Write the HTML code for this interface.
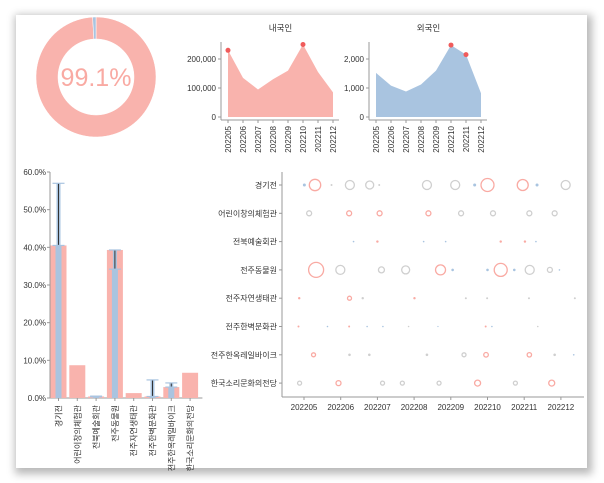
<!DOCTYPE html>
<html><head><meta charset="utf-8"><style>
html,body{margin:0;padding:0;background:#fff;width:604px;height:483px;overflow:hidden}
#panel{position:absolute;left:16px;top:15px;width:571px;height:453px;background:#fff;box-shadow:2px 3px 8px 3px rgba(0,0,0,0.28)}
svg{position:absolute;left:0;top:0}
text{font-family:"Liberation Sans","Noto Sans CJK KR",sans-serif;fill:#333}
</style></head><body>
<div id="panel"></div>
<svg id="s" width="604" height="483"></svg>
<script>
const NS='http://www.w3.org/2000/svg';
const svg=document.getElementById('s');
function mk(tag,attrs,parent,txt){const e=document.createElementNS(NS,tag);for(const k in attrs)e.setAttribute(k,attrs[k]);if(txt!==undefined)e.textContent=txt;(parent||svg).appendChild(e);return e;}
const PINK='#f9b3ad',BLUE='#a9c4e0',GRAY='#cccccc',RED='#f05b5b',AX='#999';

// ---- data ----
const donutShare=[99.1,0.9];
const months=['202205','202206','202207','202208','202209','202210','202211','202212'];
const domestic=[230000,135000,95000,130000,160000,250000,155000,85000];
const domesticPeaks=[0,5];
const foreign=[1520,1080,880,1120,1600,2480,2150,820];
const foreignPeaks=[5,6];
const venues=['경기전','어린이창의체험관','전북예술회관','전주동물원','전주자연생태관','전주한벽문화관','전주한옥레일바이크','한국소리문화의전당'];
const sharePink=[40.5,8.7,0.4,39.3,1.3,0.4,2.9,6.7];
const shareBlue=[40.5,0,0.4,34.2,0,0.4,2.9,0];
const errLow=[40.5,null,0.3,34.2,null,0.4,2.9,null];
const errHigh=[57,null,0.5,39.3,null,4.8,4.0,null];
const barTicks=[0,10,20,30,40,50,60];
// bubbles: row, month position, size, kind (p pink, g gray, b blue)
const bubRow=[0,0,0,0,0,0,0,0,0,0,0,0,0, 1,1,1,1,1,1,1,1, 2,2,2,2,2,2,2, 3,3,3,3,3,3,3,3,3,3,3,3, 4,4,4,4,4,4,4,4, 5,5,5,5,5,5,5,5,5,5, 6,6,6,6,6,6,6,6,6, 7,7,7,7,7,7,7,7];
const bubPos=[0.01,0.3,0.75,1.25,1.79,2.05,3.35,4.12,4.65,5.0,5.96,6.35,7.13, 0.14,1.23,2.06,3.39,4.28,5.15,6.14,6.83, 1.35,2.0,3.26,3.86,5.36,6.02,6.32, 0.33,0.99,2.11,2.77,3.72,4.05,5.0,5.36,5.73,6.15,6.7,6.96, -0.13,1.24,1.6,3.01,4.41,4.99,6.13,7.38, -0.15,0.64,1.23,1.72,2.15,2.85,3.65,4.95,5.12,6.37, 0.26,1.24,1.78,3.35,4.36,4.96,6.14,6.83,7.35, -0.12,0.94,2.14,2.68,3.68,4.73,5.76,6.75];
const bubSize=[1.5,5.7,1,4.5,4,1,4.5,4.5,1.5,6.5,5.5,1.5,4.5, 2.5,2.5,2.5,2.5,2.5,2.5,2.5,2.5, 0.8,1.2,0.8,0.8,1.2,1.2,0.8, 7.5,4.5,3,4,5,1.3,1.3,6.5,1.3,4.5,2.5,0.8, 1.2,2,1.2,1.2,1,1,1,1, 1,0.8,1,0.8,0.8,0.8,0.6,1,0.8,0.8, 2,1.3,1.3,1.3,2,2.3,2.2,1.3,0.8, 2,2.5,2,2,2,3,2,3];
const bubKind=['b','p','g','g','g','g','g','g','b','p','p','b','g', 'g','p','p','p','g','g','g','g', 'b','p','b','b','p','p','b', 'p','g','g','g','p','b','b','p','b','g','g','b', 'p','p','g','p','g','g','g','g', 'p','b','p','b','b','g','b','p','b','g', 'p','g','g','g','g','p','p','g','b', 'g','p','g','g','g','p','g','p'];

// ---- donut ----
(function(){
  const cx=96,cy=77,R=60,r=38,g=mk('g',{});
  
  const tot=donutShare[0]+donutShare[1];let a0=0;
  donutShare.forEach((v,i)=>{
    const a1=a0+v/tot*2*Math.PI;
    const p=(rr,a)=>[cx+rr*Math.sin(a),cy-rr*Math.cos(a)];
    const [x0,y0]=p(R,a0),[x1,y1]=p(R,a1),[x2,y2]=p(r,a1),[x3,y3]=p(r,a0);
    const lg=(a1-a0)>Math.PI?1:0;
    const s=mk('path',{d:`M${x0},${y0}A${R},${R} 0 ${lg} 1 ${x1},${y1}L${x2},${y2}A${r},${r} 0 ${lg} 0 ${x3},${y3}Z`,fill:i?BLUE:PINK,stroke:'#fff','stroke-width':0.5},g);
    
    
    a0=a1;
  });
  const t=mk('text',{x:cx,y:cy+9,'text-anchor':'middle','font-size':25,style:'fill:#f9aaa3'},g,donutShare[0]+'%');
  
})();

// ---- area charts ----
function area(x0,x1,yMax,ticks,fmt,vals,peaks,fill,title,name){
  const g=mk('g',{});
  
  const y0=117,yTop=42;
  const sx=i=>x0+i*(x1-x0)/(months.length-1);
  const sy=v=>y0-v/yMax*(y0-yTop);
  const tt=mk('text',{x:(x0+x1)/2,y:31,'text-anchor':'middle','font-size':8.5},g,title);
  
  let d=`M${sx(0)},${y0}`;vals.forEach((v,i)=>d+=`L${sx(i)},${sy(v)}`);d+=`L${sx(vals.length-1)},${y0}Z`;
  const ar=mk('path',{d,fill},g);
  
  const ax=x0-7;
  mk('line',{x1:ax,y1:yTop,x2:ax,y2:y0+3,stroke:AX},g);
  mk('line',{x1:ax,y1:y0+3,x2:x1+6,y2:y0+3,stroke:AX},g);
  ticks.forEach(t=>{
    mk('line',{x1:ax-3,y1:sy(t),x2:ax,y2:sy(t),stroke:AX},g);
    const l=mk('text',{x:ax-5,y:sy(t)+3,'text-anchor':'end','font-size':8},g,fmt(t));
    
  });
  months.forEach((m,i)=>{
    mk('line',{x1:sx(i),y1:y0+3,x2:sx(i),y2:y0+6,stroke:AX},g);
    const l=mk('text',{transform:`translate(${sx(i)+3},${y0+9}) rotate(-90)`,'text-anchor':'end','font-size':8},g,m);
    
  });
  peaks.forEach(i=>{
    const c=mk('circle',{cx:sx(i),cy:sy(vals[i]),r:2.5,fill:RED},g);
    
  });
}
area(228,333,258620,[0,100000,200000],v=>v.toLocaleString('en-US'),domestic,domesticPeaks,PINK,'내국인','domestic-area-chart');
area(376,481,2586,[0,1000,2000],v=>v.toLocaleString('en-US'),foreign,foreignPeaks,BLUE,'외국인','foreign-area-chart');

// ---- bar chart ----
(function(){
  const g=mk('g',{});
  
  const y0=398,yTop=172,x0=50,band=18.8;
  const sy=v=>y0-v/60*(y0-yTop);
  const cx=i=>x0+8.5+i*band;
  mk('line',{x1:x0,y1:yTop,x2:x0,y2:y0,stroke:AX},g);
  mk('line',{x1:x0,y1:y0,x2:x0+8*band+2,y2:y0,stroke:AX},g);
  barTicks.forEach(t=>{
    mk('line',{x1:x0-3,y1:sy(t),x2:x0,y2:sy(t),stroke:AX},g);
    const l=mk('text',{x:x0-4,y:sy(t)+3,'text-anchor':'end','font-size':8},g,t.toFixed(1)+'%');
    
  });
  venues.forEach((v,i)=>{
    const b=mk('rect',{x:cx(i)-8,y:sy(sharePink[i]),width:16,height:y0-sy(sharePink[i]),fill:PINK},g);
    
    if(shareBlue[i]>0){
      const bb=mk('rect',{x:cx(i)-3,y:sy(shareBlue[i]),width:6,height:y0-sy(shareBlue[i]),fill:BLUE},g);
      
    }
    if(errLow[i]!==null){
      const e=mk('g',{},g);
      
      mk('line',{x1:cx(i),y1:sy(errLow[i]),x2:cx(i),y2:sy(errHigh[i]),stroke:BLUE,'stroke-width':4},e);
      mk('line',{x1:cx(i),y1:sy(errLow[i]),x2:cx(i),y2:sy(errHigh[i]),stroke:'#333','stroke-width':1},e);
      [errLow[i],errHigh[i]].forEach(y=>mk('line',{x1:cx(i)-6,y1:sy(y),x2:cx(i)+6,y2:sy(y),stroke:BLUE,'stroke-width':1.2},e));
    }
    mk('line',{x1:cx(i),y1:y0,x2:cx(i),y2:y0+3,stroke:AX},g);
    const l=mk('text',{transform:`translate(${cx(i)+3},${y0+7}) rotate(-90)`,'text-anchor':'end','font-size':8},g,v);
    
  });
})();

// ---- bubble chart ----
(function(){
  const g=mk('g',{});
  
  const ax=282,y0=397,xm0=304,dx=36.7,ry0=185,dy=28.3;
  const sx=m=>xm0+m*dx, sy=r=>ry0+r*dy;
  mk('line',{x1:ax,y1:172,x2:ax,y2:y0,stroke:AX},g);
  mk('line',{x1:ax,y1:y0,x2:584,y2:y0,stroke:AX},g);
  venues.forEach((v,i)=>{
    mk('line',{x1:ax-3,y1:sy(i),x2:ax,y2:sy(i),stroke:AX},g);
    const l=mk('text',{x:ax-5,y:sy(i)+3,'text-anchor':'end','font-size':8},g,v);
    
  });
  months.forEach((m,i)=>{
    mk('line',{x1:sx(i),y1:y0,x2:sx(i),y2:y0+3,stroke:AX},g);
    const l=mk('text',{x:sx(i),y:y0+13,'text-anchor':'middle','font-size':8},g,m);
    
  });
  const col={p:'#f9aaa3',g:'#cfcfcf',b:'#a9c4e0'};
  bubRow.forEach((r,i)=>{
    const s=bubSize[i],c=col[bubKind[i]];
    const attrs=s<1.6?{cx:sx(bubPos[i]),cy:sy(r),r:s,fill:c}:{cx:sx(bubPos[i]),cy:sy(r),r:s,fill:'none',stroke:c,'stroke-width':1.3};
    const e=mk('circle',attrs,g);
    
    
  });
})();
</script>
</body></html>
